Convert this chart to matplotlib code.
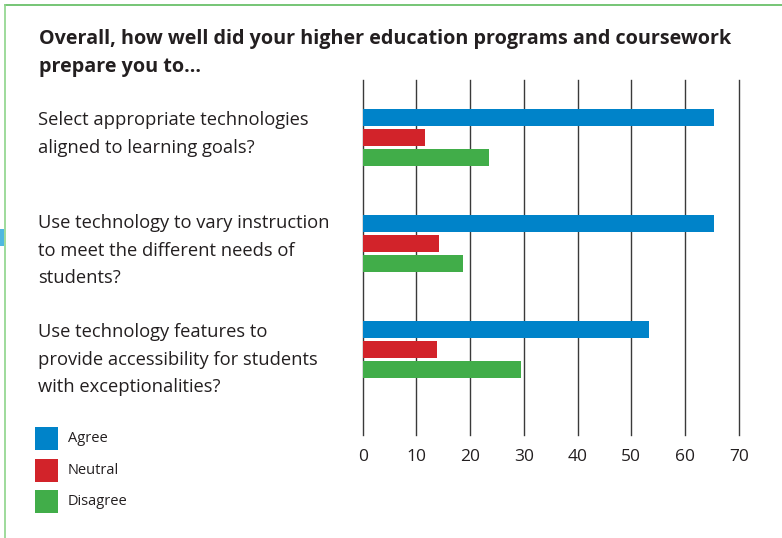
import matplotlib
matplotlib.use("Agg")
import matplotlib.pyplot as plt
from matplotlib.patches import Rectangle
from matplotlib.lines import Line2D
import numpy as np

plt.rcParams['font.family'] = ['Open Sans', 'DejaVu Sans']

title = "Overall, how well did your higher education programs and coursework\nprepare you to..."
questions = [
    "Select appropriate technologies\naligned to learning goals?",
    "Use technology to vary instruction\nto meet the different needs of\nstudents?",
    "Use technology features to\nprovide accessibility for students\nwith exceptionalities?",
]
series = ["Agree", "Neutral", "Disagree"]
agree = [65.4, 65.4, 53.3]
neutral = [11.6, 14.2, 13.9]
disagree = [23.6, 18.7, 29.5]
colors = ["#0083C9", "#D2232A", "#41AD49"]
xticks = [0, 10, 20, 30, 40, 50, 60, 70]
text_color = "#231F20"

W, H = 782, 538
fig = plt.figure(figsize=(W / 100, H / 100), dpi=100)

# axes placement in pixels
x0, x1 = 362.7, 738.7
ytop, ybot = 80, 435
ax = fig.add_axes([x0 / W, 1 - ybot / H, (x1 - x0) / W, (ybot - ytop) / H])

spacing = 106.0
ax.set_ylim((ybot - 137.5) / spacing, (ytop - 137.5) / spacing)
ax.set_xlim(0, 70)

pos = np.arange(len(questions))
h = 17 / spacing
off = 19.7 / spacing
for k, (vals, c) in enumerate(zip([agree, neutral, disagree], colors)):
    ax.barh(pos + (k - 1) * off, vals, height=h, color=c, zorder=3, linewidth=0)

for t in xticks:
    ax.axvline(t, color="#3a3a3a", linewidth=1.0, zorder=2, clip_on=False)

for s in ax.spines.values():
    s.set_visible(False)
ax.set_yticks([])
ax.set_xticks(xticks)
ax.tick_params(axis='x', length=0, pad=10, labelsize=12.5, labelcolor=text_color)

# Title
fig.text(39 / W, 1 - 29 / H, title, fontsize=14.2, fontweight='bold', color=text_color,
         va='top', ha='left', linespacing=1.54)

# Question labels
label_tops = [111, 214, 323]
for q, yt in zip(questions, label_tops):
    fig.text(38 / W, 1 - yt / H, q, fontsize=13.2, color=text_color, va='top', ha='left',
             linespacing=1.68)

# Legend
leg_y = [427, 459, 490]
for s, c, yy in zip(series, colors, leg_y):
    fig.add_artist(Rectangle((35 / W, 1 - (yy + 23) / H), 23 / W, 23 / H,
                             transform=fig.transFigure, color=c, linewidth=0))
    fig.text(68 / W, 1 - (yy + 11.5) / H, s, fontsize=10.5, color=text_color,
             va='center', ha='left')

# Border
fig.add_artist(Line2D([5 / W, 1], [1 - 5 / H, 1 - 5 / H], transform=fig.transFigure,
                      color="#5DBB5D", linewidth=1.2))
fig.add_artist(Line2D([5 / W, 5 / W], [0, 1 - 5 / H], transform=fig.transFigure,
                      color="#8ED48A", linewidth=1.2))
fig.add_artist(Rectangle((0, 1 - 246 / H), 3.5 / W, 17 / H, transform=fig.transFigure,
                         color="#4FB8E0", linewidth=0))

fig.savefig("out.png", dpi=100)
